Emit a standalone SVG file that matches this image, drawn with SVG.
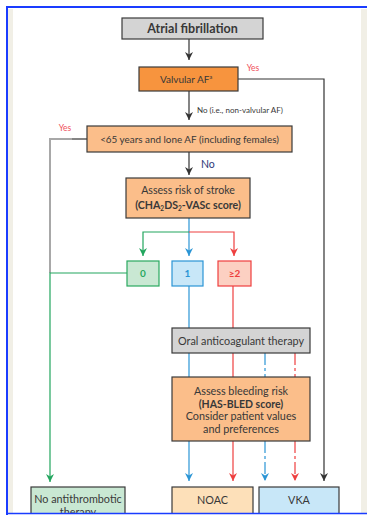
<svg xmlns="http://www.w3.org/2000/svg" width="367" height="515" viewBox="0 0 367 515">
<defs>
<style>
.box{stroke:#3a3a3a;stroke-width:1.2}
.t{font-family:Lato,"Open Sans",sans-serif;font-size:10px;fill:#383838;text-anchor:middle}
.b{font-weight:bold}
.ln{fill:none;stroke-width:1.2}
.k{stroke:#333}
.g{stroke:#22a65e}
.bl{stroke:#2b95d5}
.r{stroke:#ee3f3f}
.gr{stroke:#a8a8a8;stroke-width:2}
.d{stroke-dasharray:12 3 3 3}
</style>
<marker id="mk" viewBox="0 0 10 10" refX="10" refY="5" markerWidth="8" markerHeight="8" markerUnits="userSpaceOnUse" orient="auto"><path d="M0,0 L10,5 L0,10 L3,5 z" fill="#333"/></marker>
<marker id="mg" viewBox="0 0 10 10" refX="10" refY="5" markerWidth="8" markerHeight="8" markerUnits="userSpaceOnUse" orient="auto"><path d="M0,0 L10,5 L0,10 L3,5 z" fill="#22a65e"/></marker>
<marker id="mb" viewBox="0 0 10 10" refX="10" refY="5" markerWidth="8" markerHeight="8" markerUnits="userSpaceOnUse" orient="auto"><path d="M0,0 L10,5 L0,10 L3,5 z" fill="#2b95d5"/></marker>
<marker id="mr" viewBox="0 0 10 10" refX="10" refY="5" markerWidth="8" markerHeight="8" markerUnits="userSpaceOnUse" orient="auto"><path d="M0,0 L10,5 L0,10 L3,5 z" fill="#ee3f3f"/></marker>
</defs>
<rect x="0" y="0" width="367" height="515" fill="#ffffff"/>
<rect x="8" y="9" width="5" height="504" fill="#f1efe6"/>
<rect x="361" y="9" width="6" height="504" fill="#f1efe6"/>

<g id="connectors">
<line class="ln k" x1="189" y1="39" x2="189" y2="60" marker-end="url(#mk)"/>
<line class="ln k" x1="189" y1="91" x2="189" y2="120" marker-end="url(#mk)"/>
<line class="ln k" x1="189" y1="152" x2="189" y2="175" marker-end="url(#mk)"/>
<polyline class="ln k" points="238,79 324,79 324,481" marker-end="url(#mk)"/>
<line class="ln k" x1="87" y1="139" x2="72" y2="139"/>
<polyline class="ln gr" points="72,139 50,139 50,273"/>
<line class="ln bl" x1="189" y1="218" x2="189" y2="256" marker-end="url(#mb)"/>
<polyline class="ln g" points="189,232 143,232 143,256" marker-end="url(#mg)"/>
<polyline class="ln r" points="189,232 234,232 234,256" marker-end="url(#mr)"/>
<polyline class="ln g" points="127,273 50,273 50,482" marker-end="url(#mg)"/>
<line class="ln bl" x1="189" y1="286" x2="189" y2="328"/>
<line class="ln r" x1="233" y1="286" x2="233" y2="328"/>
<line class="ln bl" x1="189" y1="353" x2="189" y2="377"/>
<line class="ln r" x1="233" y1="353" x2="233" y2="377"/>
<line class="ln bl d" x1="265" y1="353" x2="265" y2="377"/>
<line class="ln r d" x1="295" y1="353" x2="295" y2="377"/>
<line class="ln bl" x1="189" y1="441" x2="189" y2="481" marker-end="url(#mb)"/>
<line class="ln r" x1="233" y1="441" x2="233" y2="481" marker-end="url(#mr)"/>
<line class="ln bl d" x1="265" y1="441" x2="265" y2="481" marker-end="url(#mb)"/>
<line class="ln r d" x1="295" y1="441" x2="295" y2="481" marker-end="url(#mr)"/>
<text x="253" y="71" class="t" style="fill:#f0505a;font-size:8.5px">Yes</text>
<text x="197" y="113" class="t" style="font-size:8px;text-anchor:start">No (i.e., non-valvular AF)</text>
<text x="65" y="131" class="t" style="fill:#f0505a;font-size:8.5px">Yes</text>
<text x="201" y="168" class="t" style="fill:#2e3a78;font-size:10.5px;text-anchor:start">No</text>
</g>

<g id="n-af">
<rect class="box" x="122" y="18" width="141" height="21" fill="#d4d4d4"/>
<text x="192.5" y="33" class="t b" style="font-size:12.5px">Atrial fibrillation</text>
</g>
<g id="n-valvular">
<rect class="box" x="139" y="67" width="99" height="24" fill="#f7943e"/>
<text x="186" y="82.5" class="t">Valvular AF<tspan font-size="5.5px" dy="-3.5">a</tspan></text>
</g>
<g id="n-lone">
<rect class="box" x="87" y="126" width="205" height="26" fill="#fbbe8a"/>
<text x="189.5" y="142.5" class="t" style="font-size:9.9px">&lt;65 years and lone AF (including females)</text>
</g>
<g id="n-stroke">
<rect class="box" x="126" y="178" width="124" height="40" fill="#fbbe8a"/>
<text x="188" y="194" class="t" style="font-size:10.6px">Assess risk of stroke</text>
<text x="188" y="208.5" class="t b" style="font-size:10.6px">(CHA<tspan font-size="6.5px" dy="2">2</tspan><tspan dy="-2">DS</tspan><tspan font-size="6.5px" dy="2">2</tspan><tspan dy="-2">-VASc score)</tspan></text>
</g>
<g id="n-0">
<rect x="127" y="261" width="32" height="25" fill="#c9e8d3" stroke="#2aa860" stroke-width="1.2"/>
<text x="143" y="277" class="t b" style="fill:#2aa860">0</text>
</g>
<g id="n-1">
<rect x="172" y="261" width="31" height="25" fill="#c8e7f8" stroke="#2b95d5" stroke-width="1.2"/>
<text x="187.5" y="277" class="t b" style="fill:#2b95d5">1</text>
</g>
<g id="n-2">
<rect x="218" y="261" width="33" height="25" fill="#fcd0c2" stroke="#ee3f3f" stroke-width="1.2"/>
<text x="234.5" y="277" class="t b" style="fill:#ee3f3f">≥2</text>
</g>
<g id="n-oral">
<rect class="box" x="172" y="328" width="138" height="25" fill="#d4d4d4"/>
<text x="241" y="344.5" class="t" style="font-size:10.8px">Oral anticoagulant therapy</text>
</g>
<g id="n-bleed">
<rect class="box" x="172" y="377" width="138" height="64" fill="#fbbe8a"/>
<text x="241" y="395" class="t" style="font-size:10.8px">Assess bleeding risk</text>
<text x="241" y="407.5" class="t b" style="font-size:10.5px">(HAS-BLED score)</text>
<text x="241" y="420" class="t" style="font-size:10.8px">Consider patient values</text>
<text x="241" y="432.5" class="t" style="font-size:10.8px">and preferences</text>
</g>
<g id="n-none">
<rect class="box" x="31" y="487" width="94" height="40" fill="#c9e8d3"/>
<text x="78" y="503" class="t" style="font-size:10.8px">No antithrombotic</text>
<text x="78" y="516" class="t" style="font-size:10.8px">therapy</text>
</g>
<g id="n-noac">
<rect class="box" x="172" y="487" width="81" height="40" fill="#fde0b9"/>
<text x="212.5" y="504" class="t" style="font-size:10.8px">NOAC</text>
</g>
<g id="n-vka">
<rect class="box" x="259" y="487" width="80" height="40" fill="#c8e7f8"/>
<text x="299" y="504" class="t" style="font-size:10.8px">VKA</text>
</g>

<rect x="0" y="514" width="367" height="1" fill="#ffffff"/>
<path d="M7,515 V7 H367" fill="none" stroke="#1a3cff" stroke-width="2"/>
<line x1="6" y1="513.5" x2="367" y2="513.5" stroke="#1a3cff" stroke-width="1.5"/>
</svg>
